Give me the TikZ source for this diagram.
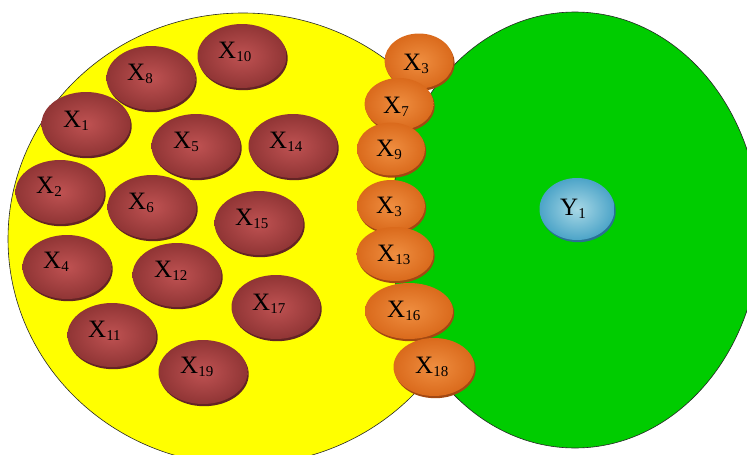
\documentclass[tikz,border=0pt]{standalone}
\usepackage{fontspec}
\setmainfont{Liberation Serif}
\usetikzlibrary{shapes.geometric,shadows}
\definecolor{yel}{HTML}{FFFF00}
\definecolor{grn}{HTML}{00CC00}
\definecolor{bIn}{HTML}{BF5252}
\definecolor{bOut}{HTML}{903535}
\definecolor{bSh}{HTML}{632424}
\definecolor{oIn}{HTML}{EF8E40}
\definecolor{oOut}{HTML}{DA6A1C}
\definecolor{oSh}{HTML}{A24812}
\definecolor{uIn}{HTML}{A8D8E6}
\definecolor{uOut}{HTML}{4CA4C8}
\definecolor{uSh}{HTML}{2A7094}
\newcommand\lab[2]{#1\raisebox{-3pt}{\fontsize{15}{15}\selectfont #2}}
\begin{document}
\begin{tikzpicture}[x=1pt,y=-1pt,
  bigset/.style={ellipse, inner sep=0pt, draw=black!85, line width=0.6pt},
  bcell/.style={ellipse, inner sep=0pt, minimum width=89pt, minimum height=64pt,
    inner color=bIn, outer color=bOut,
    general shadow={fill=bSh, shadow xshift=1.2pt, shadow yshift=-2.2pt}},
  ocell/.style={ellipse, inner sep=0pt, inner color=oIn, outer color=oOut,
    general shadow={fill=oSh, shadow xshift=1.2pt, shadow yshift=-2.2pt}},
  ucell/.style={ellipse, inner sep=0pt, inner color=uIn, outer color=uOut,
    general shadow={fill=uSh, shadow xshift=1.2pt, shadow yshift=-2.2pt}},
  lbl/.style={anchor=base west, inner sep=0pt, font=\fontsize{25}{25}\selectfont}
]
\useasboundingbox (0,0) rectangle (747,455);
\begin{scope}
  \clip (0,0) rectangle (747,455);
  \node[bigset, fill=yel, minimum width=470pt, minimum height=452pt] (A) at (243,239) {};
  \node[bigset, fill=grn, minimum width=370pt, minimum height=436pt] (B) at (575,230) {};
\end{scope}

% brown cells
\node[bcell] (x10) at (242,56) {};
\node[bcell] (x8) at (151,78) {};
\node[bcell] (x1) at (86,124) {};
\node[bcell] (x5) at (196,146) {};
\node[bcell] (x14) at (293,146) {};
\node[bcell] (x2) at (60,192) {};
\node[bcell] (x6) at (152,207) {};
\node[bcell] (x15) at (259,223) {};
\node[bcell] (x4) at (67,267) {};
\node[bcell] (x12) at (177,275) {};
\node[bcell] (x17) at (276,307) {};
\node[bcell] (x11) at (112,335) {};
\node[bcell] (x19) at (203,372) {};

\node[lbl] (t10) at (218,58) {\lab{X}{10}};
\node[lbl] (t8) at (127,80) {\lab{X}{8}};
\node[lbl] (t1) at (63,127) {\lab{X}{1}};
\node[lbl] (t5) at (173,148) {\lab{X}{5}};
\node[lbl] (t14) at (269,148) {\lab{X}{14}};
\node[lbl] (t2) at (36,193) {\lab{X}{2}};
\node[lbl] (t6) at (128,209) {\lab{X}{6}};
\node[lbl] (t15) at (235,225) {\lab{X}{15}};
\node[lbl] (t4) at (43,268) {\lab{X}{4}};
\node[lbl] (t12) at (154,277) {\lab{X}{12}};
\node[lbl] (t17) at (252,310) {\lab{X}{17}};
\node[lbl] (t11) at (88,337) {\lab{X}{11}};
\node[lbl] (t19) at (180,373) {\lab{X}{19}};

% orange cells
\node[ocell, minimum width=69pt, minimum height=55pt] (o3) at (419,61) {};
\node[ocell, minimum width=69pt, minimum height=52pt] (o7) at (399,104) {};
\node[ocell, minimum width=68pt, minimum height=53pt] (o9) at (391,149) {};
\node[ocell, minimum width=68pt, minimum height=52pt] (o3b) at (391,206) {};
\node[ocell, minimum width=77pt, minimum height=54pt] (o13) at (395,254) {};
\node[ocell, minimum width=88pt, minimum height=56pt] (o16) at (409,311) {};
\node[ocell, minimum width=81pt, minimum height=58pt] (o18) at (434,367) {};

\node[lbl] (s3) at (403,70) {\lab{X}{3}};
\node[lbl] (s7) at (383,113) {\lab{X}{7}};
\node[lbl] (s9) at (376,156) {\lab{X}{9}};
\node[lbl] (s3b) at (376,213) {\lab{X}{3}};
\node[lbl] (s13) at (377,261) {\lab{X}{13}};
\node[lbl] (s16) at (387,317) {\lab{X}{16}};
\node[lbl] (s18) at (415,373) {\lab{X}{18}};

% Y1
\node[ucell, minimum width=75pt, minimum height=62pt] (y1) at (577,209) {};
\node[lbl] (ty1) at (560,215) {\lab{Y}{1}};
\end{tikzpicture}
\end{document}
